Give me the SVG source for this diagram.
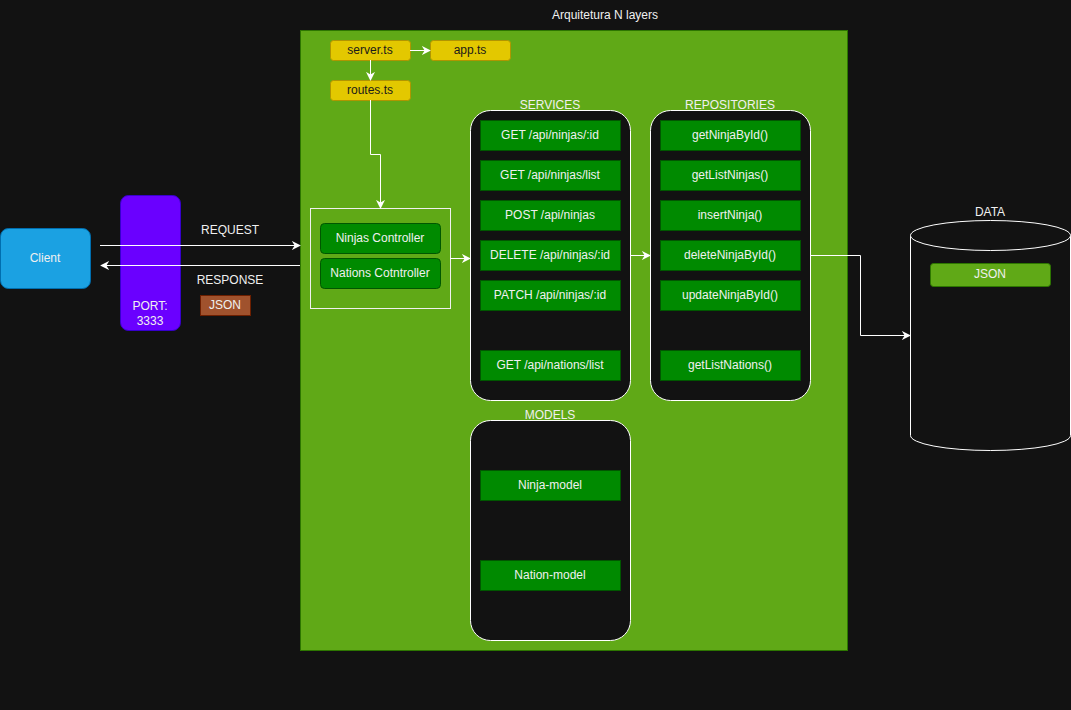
<svg xmlns="http://www.w3.org/2000/svg" width="1071" height="710" viewBox="0 0 1071 710">
<style>
text{font-family:"Liberation Sans",Arial,sans-serif;font-size:12px;text-anchor:middle;dominant-baseline:central;fill:#f0f0f0}
.dark{fill:#1a1a1a}
.item{fill:#008a00;stroke:#005700;stroke-width:1}
.yel{fill:#e3c800;stroke:#b09500;stroke-width:1}
.cont{fill:#121212;stroke:#ffffff;stroke-width:1}
.conn{fill:none;stroke:#ffffff;stroke-width:1;marker-end:url(#arr)}
</style>
<defs>
<marker id="arr" viewBox="0 0 10 10" refX="9" refY="5" markerWidth="9" markerHeight="9" markerUnits="userSpaceOnUse" orient="auto">
<path d="M0,0 L10,5 L0,10 L3,5 Z" fill="#ffffff"/>
</marker>
</defs>
<rect width="1071" height="710" fill="#121212"/>
<text x="605" y="15">Arquitetura N layers</text>
<g id="panel"><rect x="300.5" y="30.5" width="547" height="620" fill="#60a917" stroke="#2d7600"/></g>

<g id="client"><rect x="0.5" y="228.5" width="90" height="60" rx="8" fill="#1ba1e2" stroke="#006eaf"/><text x="45" y="258">Client</text></g>
<g id="port"><rect x="120.5" y="195.5" width="60" height="135" rx="8" fill="#6a00ff" stroke="#3700cc"/><text x="150" y="306">PORT:</text><text x="150" y="321">3333</text></g>
<g id="json-resp"><rect x="200.5" y="295.5" width="50" height="20" fill="#a0522d" stroke="#6d1f00"/><text x="225" y="305">JSON</text></g>
<text x="230" y="230">REQUEST</text>
<text x="230" y="280">RESPONSE</text>

<g id="server"><rect class="yel" x="330.5" y="40.5" width="80" height="20" rx="3"/><text class="dark" x="370" y="50">server.ts</text></g>
<g id="app"><rect class="yel" x="430.5" y="40.5" width="80" height="20" rx="3"/><text class="dark" x="470" y="50">app.ts</text></g>
<g id="routes"><rect class="yel" x="330.5" y="80.5" width="80" height="20" rx="3"/><text class="dark" x="370" y="90">routes.ts</text></g>

<g id="controllers">
<rect x="310.5" y="208.5" width="140" height="100" fill="none" stroke="#f0f0f0"/>
<rect class="item" x="320.5" y="223.5" width="120" height="30" rx="4"/><text x="380" y="238">Ninjas Controller</text>
<rect class="item" x="320.5" y="258.5" width="120" height="30" rx="4"/><text x="380" y="273">Nations Cotntroller</text>
</g>

<g id="services">
<text x="550" y="105">SERVICES</text>
<rect class="cont" x="470.5" y="110.5" width="160" height="290" rx="20"/>
<rect class="item" x="480.5" y="120.5" width="140" height="30"/><text x="550" y="135">GET /api/ninjas/:id</text>
<rect class="item" x="480.5" y="160.5" width="140" height="30"/><text x="550" y="175">GET /api/ninjas/list</text>
<rect class="item" x="480.5" y="200.5" width="140" height="30"/><text x="550" y="215">POST /api/ninjas</text>
<rect class="item" x="480.5" y="240.5" width="140" height="30"/><text x="550" y="255">DELETE /api/ninjas/:id</text>
<rect class="item" x="480.5" y="280.5" width="140" height="30"/><text x="550" y="295">PATCH /api/ninjas/:id</text>
<rect class="item" x="480.5" y="350.5" width="140" height="30"/><text x="550" y="365">GET /api/nations/list</text>
</g>

<g id="repositories">
<text x="730" y="105">REPOSITORIES</text>
<rect class="cont" x="650.5" y="110.5" width="160" height="290" rx="20"/>
<rect class="item" x="660.5" y="120.5" width="140" height="30"/><text x="730" y="135">getNinjaById()</text>
<rect class="item" x="660.5" y="160.5" width="140" height="30"/><text x="730" y="175">getListNinjas()</text>
<rect class="item" x="660.5" y="200.5" width="140" height="30"/><text x="730" y="215">insertNinja()</text>
<rect class="item" x="660.5" y="240.5" width="140" height="30"/><text x="730" y="255">deleteNinjaById()</text>
<rect class="item" x="660.5" y="280.5" width="140" height="30"/><text x="730" y="295">updateNinjaById()</text>
<rect class="item" x="660.5" y="350.5" width="140" height="30"/><text x="730" y="365">getListNations()</text>
</g>

<g id="models">
<text x="550" y="415">MODELS</text>
<rect class="cont" x="470.5" y="420.5" width="160" height="220" rx="20"/>
<rect class="item" x="480.5" y="470.5" width="140" height="30"/><text x="550" y="485">Ninja-model</text>
<rect class="item" x="480.5" y="560.5" width="140" height="30"/><text x="550" y="575">Nation-model</text>
</g>

<g id="data">
<text x="990" y="212">DATA</text>
<path d="M910.5,235.5 L910.5,435.5 A80,15 0 0 0 1070.5,435.5 L1070.5,235.5" fill="#121212" stroke="#ffffff"/>
<ellipse cx="990.5" cy="235.5" rx="80" ry="15" fill="#121212" stroke="#ffffff"/>
<rect x="930.5" y="263.5" width="120" height="23" rx="3" fill="#60a917" stroke="#2d7600"/><text x="990" y="274">JSON</text>
</g>

<g id="connectors">
<path class="conn" d="M100,245.5 L300,245.5"/>
<path class="conn" d="M300,265.5 L101,265.5"/>
<path class="conn" d="M410,50.5 L430,50.5"/>
<path class="conn" d="M370.5,60 L370.5,80"/>
<path class="conn" d="M370.5,100 L370.5,154.5 L380.5,154.5 L380.5,208"/>
<path class="conn" d="M450,258.5 L470,258.5"/>
<path class="conn" d="M630,255.5 L650,255.5"/>
<path class="conn" d="M810,255.5 L860.5,255.5 L860.5,335.5 L910,335.5"/>
</g>
</svg>
